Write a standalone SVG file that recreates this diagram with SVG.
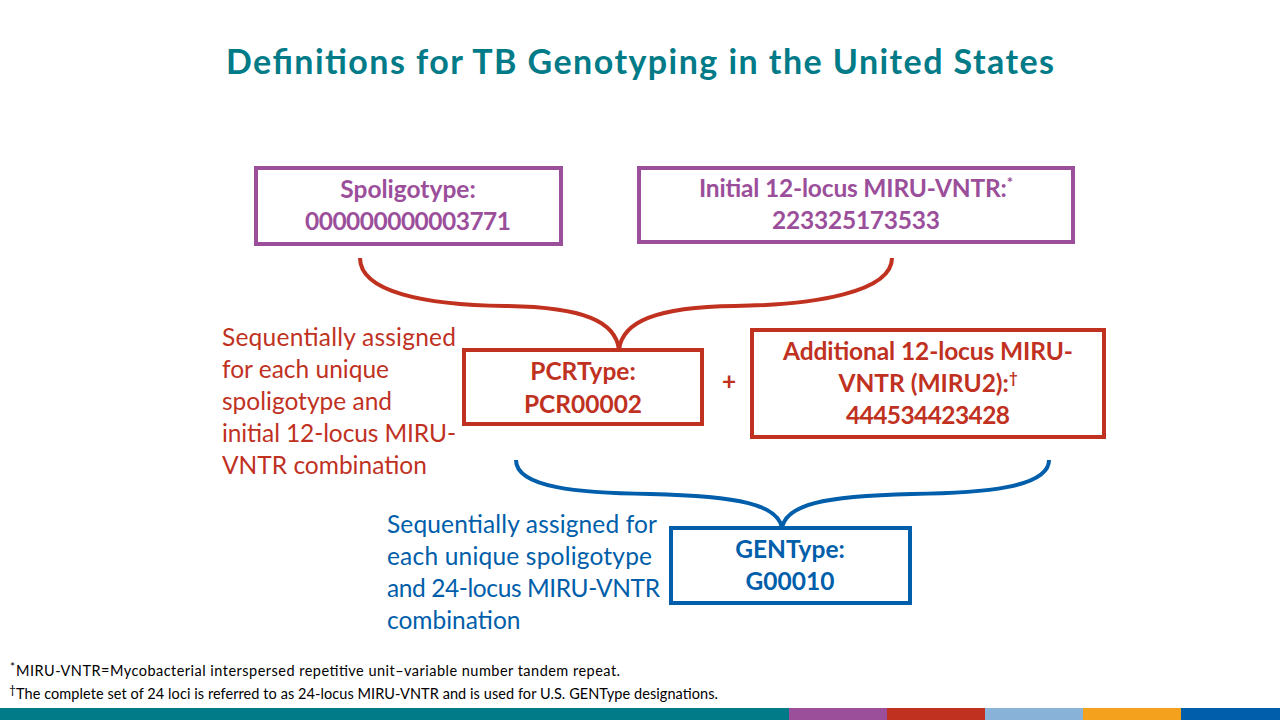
<svg xmlns="http://www.w3.org/2000/svg" width="1280" height="720" viewBox="0 0 1280 720">
<style>
text{font-family:Lato,"Open Sans","Liberation Sans",sans-serif}
.title{font-size:34px;font-weight:bold;fill:#007B87}
.box{fill:#fff;stroke-width:4}
.pu{stroke:#9B4F9B}.pt{fill:#9B4F9B}
.rd{stroke:#C0311F}.rt{fill:#C0311F}
.bl{stroke:#005EAA}.bt{fill:#005EAA}
.b{font-size:24.5px;font-weight:bold;text-anchor:middle}
.n{font-size:24.5px}
.fn{font-size:14.5px;fill:#000}
.sup{font-size:15px}
.fsup{font-size:12px}
.brace{fill:none;stroke-width:4}
</style>
<rect width="1280" height="720" fill="#fff"/>
<text class="title" x="640" y="74" text-anchor="middle" textLength="828">Definitions for TB Genotyping in the United States</text>

<g id="spoligotype">
<rect class="box pu" x="256" y="168" width="305" height="76"/>
<text class="b pt" x="408" y="198">Spoligotype:</text>
<text class="b pt" x="408" y="230" textLength="206">000000000003771</text>
</g>
<g id="initial-miru">
<rect class="box pu" x="639" y="168" width="434" height="74"/>
<text class="b pt" x="856" y="197"><tspan textLength="308">Initial 12-locus MIRU-VNTR:</tspan><tspan class="sup" dy="-9">*</tspan></text>
<text class="b pt" x="856" y="229" textLength="168">223325173533</text>
</g>

<g id="connectors">
<path class="brace rd" d="M360,258 C360,292 425,305 505,306 C585,307 616,322 619,350 C622,322 655,307 735,306 C815,305 892,292 892,258"/>
<path class="brace bl" d="M516,460 C516,488 580,493 650,494 C740,496 778,505 782,528 C786,505 822,496 912,494 C982,493 1049,488 1049,460"/>
</g>

<g id="pcr-note">
<text class="n rt" x="222" y="346" textLength="234">Sequentially assigned</text>
<text class="n rt" x="222" y="378">for each unique</text>
<text class="n rt" x="222" y="410">spoligotype and</text>
<text class="n rt" x="222" y="442" textLength="234">initial 12-locus MIRU-</text>
<text class="n rt" x="222" y="474">VNTR combination</text>
</g>
<g id="pcrtype">
<rect class="box rd" x="464" y="350" width="238" height="74"/>
<text class="b rt" x="583" y="380">PCRType:</text>
<text class="b rt" x="583" y="413">PCR00002</text>
</g>
<g id="plus">
<text class="b rt" x="729" y="390">+</text>
</g>
<g id="miru2">
<rect class="box rd" x="752" y="330" width="352" height="107"/>
<text class="b rt" x="928" y="360" textLength="290">Additional 12-locus MIRU-</text>
<text class="b rt" x="928" y="392"><tspan>VNTR (MIRU2):</tspan><tspan class="sup" dy="-9">†</tspan></text>
<text class="b rt" x="928" y="424" textLength="164">444534423428</text>
</g>

<g id="gen-note">
<text class="n bt" x="387" y="533" textLength="270">Sequentially assigned for</text>
<text class="n bt" x="387" y="565" textLength="265">each unique spoligotype</text>
<text class="n bt" x="387" y="597" textLength="273">and 24-locus MIRU-VNTR</text>
<text class="n bt" x="387" y="629">combination</text>
</g>
<g id="gentype">
<rect class="box bl" x="671" y="528" width="239" height="75"/>
<text class="b bt" x="790" y="558">GENType:</text>
<text class="b bt" x="790" y="590">G00010</text>
</g>

<g id="footnotes">
<text class="fn" x="10" y="676"><tspan class="fsup" dy="-5">*</tspan><tspan dy="5" x="16" textLength="604">MIRU-VNTR=Mycobacterial interspersed repetitive unit–variable number tandem repeat.</tspan></text>
<text class="fn" x="9" y="699"><tspan class="fsup" dy="-5">†</tspan><tspan dy="5" x="16" textLength="702">The complete set of 24 loci is referred to as 24-locus MIRU-VNTR and is used for U.S. GENType designations.</tspan></text>
</g>

<g id="bottom-bar">
<rect x="0" y="708" width="789" height="12" fill="#007B87"/>
<rect x="789" y="708" width="98" height="12" fill="#9B4F9B"/>
<rect x="887" y="708" width="98" height="12" fill="#C0311F"/>
<rect x="985" y="708" width="98" height="12" fill="#88B2D8"/>
<rect x="1083" y="708" width="98" height="12" fill="#F4A11E"/>
<rect x="1181" y="708" width="99" height="12" fill="#005EAA"/>
</g>
</svg>
